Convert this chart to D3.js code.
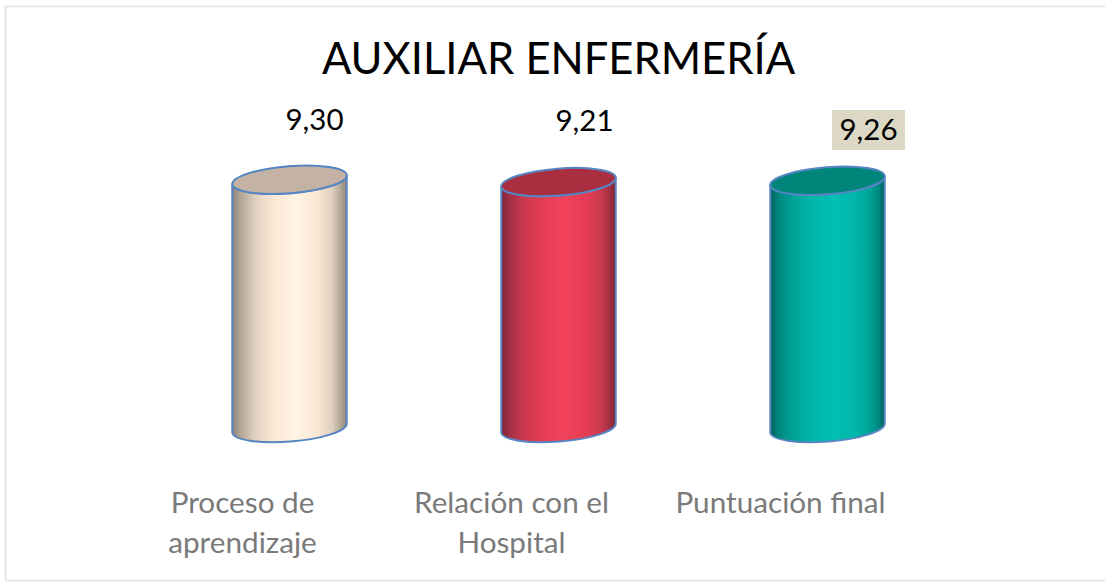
<!DOCTYPE html>
<meta charset="utf-8">
<style>
html, body { margin: 0; padding: 0; background: #fff; }
svg { display: block; }
text { font-family: Lato, "Open Sans", sans-serif; }
.tick text { fill: #7a7a7a; font-size: 29.7px; }
</style>
<svg width="1105" height="582"></svg>
<script src="https://cdn.jsdelivr.net/npm/d3@7"></script>
<script>

var categories = ["Proceso de aprendizaje", "Relación con el Hospital", "Puntuación final"];
var values = [9.30, 9.21, 9.26];
var valueLabels = ["9,30", "9,21", "9,26"];
var chartTitle = "AUXILIAR ENFERMERÍA";

var barColors = [
  { id: "cream", top: "#c4b3a5", edge: "#8a8277", side: "#b0a495", soft: "#e0d0c0", near: "#fde7d5", mid: "#fff4e3" },
  { id: "red", top: "#a92f40", edge: "#7a2432", side: "#a03043", soft: "#cb394e", near: "#e43d54", mid: "#f2425b" },
  { id: "teal", top: "#00857b", edge: "#005f5b", side: "#00857d", soft: "#00a397", near: "#00b6a9", mid: "#00c0b3" }
];

var svg = d3.select("svg"),
    width = +svg.attr("width"),
    height = +svg.attr("height");

var x = d3.scaleBand().domain(categories).range([155, 962]).padding(0);
var y = d3.scaleLinear().domain([0, 10]).range([428, 161]);

var rx = 57.4, ry = 13.5, tilt = -4.5;
var dx = rx * Math.cos(tilt * Math.PI / 180),
    dy = rx * Math.sin(tilt * Math.PI / 180);

// frame: no right side on the original
svg.append("path")
    .attr("d", "M1105,6.5H5.5V580.5H1105")
    .attr("fill", "none")
    .attr("stroke", "#e2e2e2")
    .attr("stroke-width", 1.5);

var defs = svg.append("defs");
var grads = defs.selectAll("linearGradient").data(barColors).enter()
    .append("linearGradient")
    .attr("id", function (d) { return "grad-" + d.id; })
    .attr("x1", 0).attr("x2", 1).attr("y1", 0).attr("y2", 0);

grads.each(function (d) {
  var g = d3.select(this);
  [[0, d.edge], [0.07, d.side], [0.2, d.soft], [0.36, d.near], [0.55, d.mid], [0.74, d.near], [0.87, d.soft], [0.95, d.side], [1, d.edge]].forEach(function (s) {
    g.append("stop").attr("offset", s[0]).attr("stop-color", s[1]);
  });
});

var bars = svg.append("g").selectAll("g").data(values).enter().append("g");

function cx(i) { return x(categories[i]) + x.bandwidth() / 2; }

bars.append("path")
    .attr("d", function (d, i) {
      var c = cx(i), t = y(d), b = y(0);
      return "M" + (c - dx) + "," + (t - dy) +
        "L" + (c - dx) + "," + (b - dy) +
        "A" + rx + "," + ry + " " + tilt + " 0 0 " + (c + dx) + "," + (b + dy) +
        "L" + (c + dx) + "," + (t + dy) +
        "A" + rx + "," + ry + " " + tilt + " 0 1 " + (c - dx) + "," + (t - dy) + "Z";
    })
    .attr("fill", function (d, i) { return "url(#grad-" + barColors[i].id + ")"; })
    .attr("stroke", "#5585c2")
    .attr("stroke-width", 2)
    .attr("stroke-linejoin", "round");

bars.append("ellipse")
    .attr("rx", rx).attr("ry", ry)
    .attr("transform", function (d, i) { return "translate(" + cx(i) + "," + y(d) + ") rotate(" + tilt + ")"; })
    .attr("fill", function (d, i) { return barColors[i].top; })
    .attr("stroke", "#5585c2")
    .attr("stroke-width", 2);

// value labels sit off-centre like in the original
var labelShift = [25, 26, 41];
var labelY = [130, 131, 140];

svg.append("rect")
    .attr("x", 832).attr("y", 110)
    .attr("width", 73).attr("height", 40)
    .attr("fill", "#dcd8c4");

svg.append("g").selectAll("text").data(valueLabels).enter().append("text")
    .attr("x", function (d, i) { return cx(i) + labelShift[i]; })
    .attr("y", function (d, i) { return labelY[i]; })
    .attr("text-anchor", "middle")
    .attr("font-size", 29.5)
    .attr("fill", "#000")
    .text(function (d) { return d; });

svg.append("text")
    .attr("x", 558.5).attr("y", 74)
    .attr("text-anchor", "middle")
    .attr("font-size", 43.5)
    .attr("fill", "#000")
    .text(chartTitle);

// category axis is shifted left of the cylinders
var axis = svg.append("g")
    .attr("transform", "translate(-47,492)")
    .call(d3.axisBottom(x).tickSize(0).tickPadding(0));
axis.select(".domain").remove();
axis.selectAll(".tick text").call(wrap, 235);

function wrap(sel, w) {
  sel.each(function () {
    var t = d3.select(this), words = t.text().split(" "), line = [],
        tx = t.attr("x") || 0,
        span = t.text(null).append("tspan").attr("x", tx).attr("dy", "0.71em");
    words.forEach(function (word) {
      line.push(word);
      span.text(line.join(" "));
      if (span.node().getComputedTextLength() > w && line.length > 1) {
        line.pop();
        span.text(line.join(" "));
        line = [word];
        span = t.append("tspan").attr("x", tx).attr("dy", "40px").text(word);
      }
    });
  });
}
</script>
